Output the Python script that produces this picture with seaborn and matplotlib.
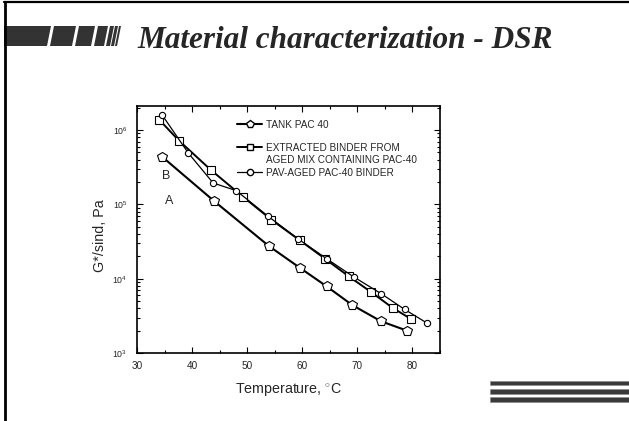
import numpy as np
import pandas as pd
import seaborn as sns
import matplotlib.pyplot as plt
from matplotlib.patches import Polygon, Rectangle
from matplotlib.lines import Line2D
from matplotlib.ticker import LogLocator, FixedLocator, NullFormatter

# data
tank_temp = [34.5, 43.9, 53.9, 59.5, 64.4, 69.1, 74.3, 79.0]
tank_g = [4.4e5, 1.12e5, 2.76e4, 1.41e4, 7.9e3, 4.4e3, 2.67e3, 2.0e3]

extr_temp = [34.0, 37.6, 43.4, 49.2, 54.4, 59.5, 64.1, 68.4, 72.5, 76.4, 79.7]
extr_g = [1.38e6, 7.2e5, 2.9e5, 1.27e5, 6.2e4, 3.3e4, 1.86e4, 1.08e4, 6.6e3, 4.05e3, 2.88e3]

pav_temp = [34.5, 39.3, 43.8, 48.0, 53.8, 59.3, 64.4, 69.3, 74.3, 78.6, 82.6]
pav_g = [1.61e6, 4.9e5, 1.94e5, 1.53e5, 6.9e4, 3.4e4, 1.86e4, 1.06e4, 6.3e3, 3.85e3, 2.54e3]

labels = ["TANK PAC 40",
          "EXTRACTED BINDER FROM",
          "AGED MIX CONTAINING PAC-40",
          "PAV-AGED PAC-40 BINDER"]
x_ticks = [30, 40, 50, 60, 70, 80]
y_ticks = [1e3, 1e4, 1e5, 1e6]

sns.set_style("ticks")
plt.rcParams['font.family'] = ['Liberation Sans', 'DejaVu Sans']
plt.rcParams['mathtext.fontset'] = 'custom'
plt.rcParams['mathtext.rm'] = 'Liberation Sans'

fig = plt.figure(figsize=(6.29, 4.21), dpi=100)
ax = fig.add_axes([0.218, 0.1615, 0.4815, 0.5865])

sns.lineplot(x=tank_temp, y=tank_g, ax=ax, color='black', linewidth=1.5,
             marker='p', markersize=7, markerfacecolor='white',
             markeredgecolor='black', markeredgewidth=0.8)
sns.lineplot(x=extr_temp, y=extr_g, ax=ax, color='black', linewidth=1.4,
             marker='s', markersize=5.5, markerfacecolor='white',
             markeredgecolor='black', markeredgewidth=0.8)
sns.lineplot(x=pav_temp, y=pav_g, ax=ax, color='black', linewidth=0.9,
             marker='o', markersize=4.5, markerfacecolor='white',
             markeredgecolor='black', markeredgewidth=0.8)

ax.set_yscale('log')
ax.set_xlim(30, 85)
ax.set_ylim(1e3, 2.1e6)
ax.xaxis.set_major_locator(FixedLocator(x_ticks))
ax.xaxis.set_minor_locator(FixedLocator([35, 45, 55, 65, 75, 85]))
ax.yaxis.set_major_locator(FixedLocator(y_ticks))
ax.yaxis.set_minor_locator(LogLocator(base=10, subs=np.arange(2, 10)))
ax.yaxis.set_minor_formatter(NullFormatter())
ax.set_yticklabels([r'$10^{3}$', r'$10^{4}$', r'$10^{5}$', r'$10^{6}$'])
ax.tick_params(which='both', direction='in', top=True, right=True,
               width=0.8, color='black')
ax.tick_params(axis='x', labelsize=7.2, pad=6)
ax.tick_params(axis='y', labelsize=6.3, pad=7)
ax.tick_params(which='major', length=4)
ax.tick_params(which='minor', length=2.5)
for s in ax.spines.values():
    s.set_linewidth(1.2)
    s.set_color('black')

ax.set_xlabel('Temperature, $^{\\circ}$C', fontsize=10.3, labelpad=7)
ax.set_ylabel('G*/sind, Pa', fontsize=10.3)
ax.yaxis.set_label_coords(-0.10, 0.475)

ax.text(35.35, 2.39e5, 'B', fontsize=9, ha='center', va='center')
ax.text(35.8, 1.12e5, 'A', fontsize=9, ha='center', va='center')

h_tank = Line2D([], [], color='black', lw=1.5, marker='p', ms=6, mfc='white', mec='black')
h_extr = Line2D([], [], color='black', lw=1.4, marker='s', ms=5, mfc='white', mec='black')
h_none = Line2D([], [], color='none', lw=0)
h_pav = Line2D([], [], color='black', lw=0.9, marker='o', ms=4.5, mfc='white', mec='black')

leg_kw = dict(frameon=False, fontsize=7.2, handlelength=2.5, handletextpad=0.4,
              borderaxespad=0, borderpad=0, loc='upper left')
leg1 = ax.legend([h_tank], labels[:1], bbox_to_anchor=(0.33, 0.945),
                 labelspacing=0.2, **leg_kw)
ax.add_artist(leg1)
ax.legend([h_extr, h_none, h_pav], labels[1:], bbox_to_anchor=(0.33, 0.852),
          labelspacing=0.25, **leg_kw)

# slide decoration
fig.text(137 / 629, 1 - 41 / 421, 'Material characterization - DSR',
         fontsize=22.5, family='Liberation Serif', style='italic',
         weight='bold', va='center', ha='left')

W, H = 629, 421


def px(x, y):
    return (x / W, 1 - y / H)


segs = [(4, 47), (50, 72), (75, 91), (94, 104), (106, 110), (111, 114), (115, 117)]
for x0, x1 in segs:
    sl = 4 if x0 > 4 else 0
    pts = [px(x0, 46), px(x1, 46), px(x1 + 4, 26), px(x0 + sl, 26)]
    fig.patches.append(Polygon(pts, closed=True, transform=fig.transFigure,
                               facecolor='#333333', edgecolor='none'))

for yc in [383, 391.5, 399.5]:
    fig.patches.append(Rectangle(px(490, yc + 2.2), 139 / W, 4.4 / H,
                                 transform=fig.transFigure,
                                 facecolor='#3a3a3a', edgecolor='#888888', lw=0.4))

fig.add_artist(Line2D([4 / W, 1], [1 - 2 / H, 1 - 2 / H], color='black',
                      lw=1.6, transform=fig.transFigure))
fig.add_artist(Line2D([5 / W, 5 / W], [0, 1 - 2 / H], color='black',
                      lw=2, transform=fig.transFigure))

fig.savefig('out.png', dpi=100)
